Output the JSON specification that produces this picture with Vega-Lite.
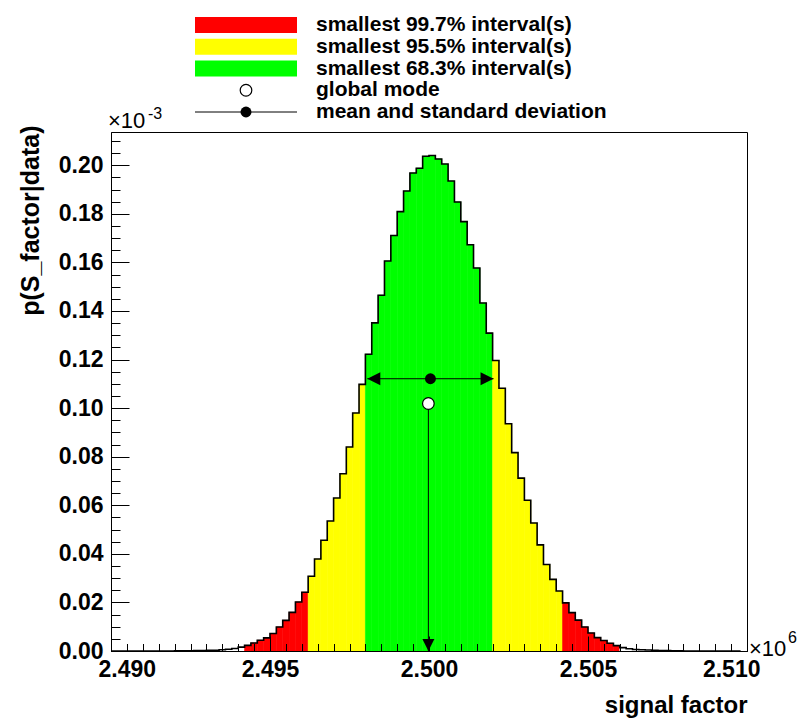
{
  "$schema": "https://vega.github.io/schema/vega-lite/v6.json",
  "width": 636,
  "height": 519,
  "autosize": {"type": "none"},
  "padding": {"left": 111, "top": 132, "right": 53, "bottom": 67},
  "background": "white",
  "config": {
    "view": {"stroke": "black", "strokeWidth": 1},
    "font": "Liberation Sans",
    "axis": {"grid": false}
  },
  "datasets": {
    "hist": [
      {"lo": 2.4900, "hi": 2.4902, "p": 0, "band": "tail"},
      {"lo": 2.4902, "hi": 2.4904, "p": 0, "band": "tail"},
      {"lo": 2.4904, "hi": 2.4906, "p": 0, "band": "tail"},
      {"lo": 2.4906, "hi": 2.4908, "p": 0, "band": "tail"},
      {"lo": 2.4908, "hi": 2.4910, "p": 0, "band": "tail"},
      {"lo": 2.4910, "hi": 2.4912, "p": 0, "band": "tail"},
      {"lo": 2.4912, "hi": 2.4914, "p": 0, "band": "tail"},
      {"lo": 2.4914, "hi": 2.4916, "p": 0, "band": "tail"},
      {"lo": 2.4916, "hi": 2.4918, "p": 0, "band": "tail"},
      {"lo": 2.4918, "hi": 2.4920, "p": 0, "band": "tail"},
      {"lo": 2.4920, "hi": 2.4922, "p": 0.0001, "band": "tail"},
      {"lo": 2.4922, "hi": 2.4924, "p": 0.0001, "band": "tail"},
      {"lo": 2.4924, "hi": 2.4926, "p": 0.0001, "band": "tail"},
      {"lo": 2.4926, "hi": 2.4928, "p": 0.0002, "band": "tail"},
      {"lo": 2.4928, "hi": 2.4930, "p": 0.0002, "band": "tail"},
      {"lo": 2.4930, "hi": 2.4932, "p": 0.0003, "band": "tail"},
      {"lo": 2.4932, "hi": 2.4934, "p": 0.0003, "band": "tail"},
      {"lo": 2.4934, "hi": 2.4936, "p": 0.0005, "band": "tail"},
      {"lo": 2.4936, "hi": 2.4938, "p": 0.0007, "band": "tail"},
      {"lo": 2.4938, "hi": 2.4940, "p": 0.0010, "band": "tail"},
      {"lo": 2.4940, "hi": 2.4942, "p": 0.0016, "band": "tail"},
      {"lo": 2.4942, "hi": 2.4944, "p": 0.0023, "band": "99.7"},
      {"lo": 2.4944, "hi": 2.4946, "p": 0.0033, "band": "99.7"},
      {"lo": 2.4946, "hi": 2.4948, "p": 0.0044, "band": "99.7"},
      {"lo": 2.4948, "hi": 2.4950, "p": 0.0054, "band": "99.7"},
      {"lo": 2.4950, "hi": 2.4952, "p": 0.0072, "band": "99.7"},
      {"lo": 2.4952, "hi": 2.4954, "p": 0.0099, "band": "99.7"},
      {"lo": 2.4954, "hi": 2.4956, "p": 0.0126, "band": "99.7"},
      {"lo": 2.4956, "hi": 2.4958, "p": 0.0159, "band": "99.7"},
      {"lo": 2.4958, "hi": 2.4960, "p": 0.0202, "band": "99.7"},
      {"lo": 2.4960, "hi": 2.4962, "p": 0.0242, "band": "99.7"},
      {"lo": 2.4962, "hi": 2.4964, "p": 0.0308, "band": "95.5"},
      {"lo": 2.4964, "hi": 2.4966, "p": 0.0379, "band": "95.5"},
      {"lo": 2.4966, "hi": 2.4968, "p": 0.0456, "band": "95.5"},
      {"lo": 2.4968, "hi": 2.4970, "p": 0.0535, "band": "95.5"},
      {"lo": 2.4970, "hi": 2.4972, "p": 0.0630, "band": "95.5"},
      {"lo": 2.4972, "hi": 2.4974, "p": 0.0730, "band": "95.5"},
      {"lo": 2.4974, "hi": 2.4976, "p": 0.0840, "band": "95.5"},
      {"lo": 2.4976, "hi": 2.4978, "p": 0.0980, "band": "95.5"},
      {"lo": 2.4978, "hi": 2.4980, "p": 0.1098, "band": "95.5"},
      {"lo": 2.4980, "hi": 2.4982, "p": 0.1222, "band": "68.3"},
      {"lo": 2.4982, "hi": 2.4984, "p": 0.1351, "band": "68.3"},
      {"lo": 2.4984, "hi": 2.4986, "p": 0.1465, "band": "68.3"},
      {"lo": 2.4986, "hi": 2.4988, "p": 0.1606, "band": "68.3"},
      {"lo": 2.4988, "hi": 2.4990, "p": 0.1711, "band": "68.3"},
      {"lo": 2.4990, "hi": 2.4992, "p": 0.1809, "band": "68.3"},
      {"lo": 2.4992, "hi": 2.4994, "p": 0.1894, "band": "68.3"},
      {"lo": 2.4994, "hi": 2.4996, "p": 0.1968, "band": "68.3"},
      {"lo": 2.4996, "hi": 2.4998, "p": 0.1988, "band": "68.3"},
      {"lo": 2.4998, "hi": 2.5000, "p": 0.2037, "band": "68.3"},
      {"lo": 2.5000, "hi": 2.5002, "p": 0.2040, "band": "68.3"},
      {"lo": 2.5002, "hi": 2.5004, "p": 0.2026, "band": "68.3"},
      {"lo": 2.5004, "hi": 2.5006, "p": 0.2005, "band": "68.3"},
      {"lo": 2.5006, "hi": 2.5008, "p": 0.1935, "band": "68.3"},
      {"lo": 2.5008, "hi": 2.5010, "p": 0.1849, "band": "68.3"},
      {"lo": 2.5010, "hi": 2.5012, "p": 0.1768, "band": "68.3"},
      {"lo": 2.5012, "hi": 2.5014, "p": 0.1673, "band": "68.3"},
      {"lo": 2.5014, "hi": 2.5016, "p": 0.1577, "band": "68.3"},
      {"lo": 2.5016, "hi": 2.5018, "p": 0.1433, "band": "68.3"},
      {"lo": 2.5018, "hi": 2.5020, "p": 0.1309, "band": "68.3"},
      {"lo": 2.5020, "hi": 2.5022, "p": 0.1196, "band": "95.5"},
      {"lo": 2.5022, "hi": 2.5024, "p": 0.1082, "band": "95.5"},
      {"lo": 2.5024, "hi": 2.5026, "p": 0.0936, "band": "95.5"},
      {"lo": 2.5026, "hi": 2.5028, "p": 0.0817, "band": "95.5"},
      {"lo": 2.5028, "hi": 2.5030, "p": 0.0712, "band": "95.5"},
      {"lo": 2.5030, "hi": 2.5032, "p": 0.0621, "band": "95.5"},
      {"lo": 2.5032, "hi": 2.5034, "p": 0.0527, "band": "95.5"},
      {"lo": 2.5034, "hi": 2.5036, "p": 0.0437, "band": "95.5"},
      {"lo": 2.5036, "hi": 2.5038, "p": 0.0356, "band": "95.5"},
      {"lo": 2.5038, "hi": 2.5040, "p": 0.0295, "band": "95.5"},
      {"lo": 2.5040, "hi": 2.5042, "p": 0.0247, "band": "95.5"},
      {"lo": 2.5042, "hi": 2.5044, "p": 0.0198, "band": "99.7"},
      {"lo": 2.5044, "hi": 2.5046, "p": 0.0158, "band": "99.7"},
      {"lo": 2.5046, "hi": 2.5048, "p": 0.0127, "band": "99.7"},
      {"lo": 2.5048, "hi": 2.5050, "p": 0.0099, "band": "99.7"},
      {"lo": 2.5050, "hi": 2.5052, "p": 0.0074, "band": "99.7"},
      {"lo": 2.5052, "hi": 2.5054, "p": 0.0055, "band": "99.7"},
      {"lo": 2.5054, "hi": 2.5056, "p": 0.0043, "band": "99.7"},
      {"lo": 2.5056, "hi": 2.5058, "p": 0.0032, "band": "99.7"},
      {"lo": 2.5058, "hi": 2.5060, "p": 0.0022, "band": "99.7"},
      {"lo": 2.5060, "hi": 2.5062, "p": 0.0014, "band": "tail"},
      {"lo": 2.5062, "hi": 2.5064, "p": 0.0009, "band": "tail"},
      {"lo": 2.5064, "hi": 2.5066, "p": 0.0006, "band": "tail"},
      {"lo": 2.5066, "hi": 2.5068, "p": 0.0005, "band": "tail"},
      {"lo": 2.5068, "hi": 2.5070, "p": 0.0004, "band": "tail"},
      {"lo": 2.5070, "hi": 2.5072, "p": 0.0003, "band": "tail"},
      {"lo": 2.5072, "hi": 2.5074, "p": 0.0002, "band": "tail"},
      {"lo": 2.5074, "hi": 2.5076, "p": 0.0002, "band": "tail"},
      {"lo": 2.5076, "hi": 2.5078, "p": 0.0001, "band": "tail"},
      {"lo": 2.5078, "hi": 2.5080, "p": 0.0001, "band": "tail"},
      {"lo": 2.5080, "hi": 2.5082, "p": 0, "band": "tail"},
      {"lo": 2.5082, "hi": 2.5084, "p": 0, "band": "tail"},
      {"lo": 2.5084, "hi": 2.5086, "p": 0, "band": "tail"},
      {"lo": 2.5086, "hi": 2.5088, "p": 0, "band": "tail"},
      {"lo": 2.5088, "hi": 2.5090, "p": 0, "band": "tail"},
      {"lo": 2.5090, "hi": 2.5092, "p": 0, "band": "tail"},
      {"lo": 2.5092, "hi": 2.5094, "p": 0, "band": "tail"},
      {"lo": 2.5094, "hi": 2.5096, "p": 0, "band": "tail"},
      {"lo": 2.5096, "hi": 2.5098, "p": 0, "band": "tail"},
      {"lo": 2.5098, "hi": 2.5100, "p": 0, "band": "tail"}
    ],
    "markers": [
      {"mean": 2.500045, "slo": 2.49806, "shi": 2.50203, "ymean": 0.1121, "mode": 2.49998, "ymode": 0.1019}
    ],
    "legend": [
      {"row": 0, "label": "smallest 99.7% interval(s)", "kind": "box", "band": "99.7"},
      {"row": 1, "label": "smallest 95.5% interval(s)", "kind": "box", "band": "95.5"},
      {"row": 2, "label": "smallest 68.3% interval(s)", "kind": "box", "band": "68.3"},
      {"row": 3, "label": "global mode", "kind": "mode", "band": "none"},
      {"row": 4, "label": "mean and standard deviation", "kind": "mean", "band": "none"}
    ]
  },
  "layer": [
    {
      "data": {"name": "hist"},
      "layer": [
        {
          "mark": {"type": "rect", "strokeWidth": 0.6},
          "encoding": {
            "x": {
              "field": "lo", "type": "quantitative",
              "scale": {"domain": [2.49, 2.51], "nice": false, "zero": false},
              "axis": {
                "orient": "bottom", "zindex": 1,
                "values": [2.49, 2.495, 2.5, 2.505, 2.51], "format": ".3f",
                "tickSize": -15, "tickColor": "black", "tickWidth": 1,
                "domain": true, "domainColor": "black", "domainWidth": 1,
                "labelFont": "Liberation Sans", "labelFontWeight": "bold", "labelFontSize": 23, "labelColor": "black",
                "labelPadding": 22, "labelBaseline": "top", "labelFlush": true, "labelFlushOffset": 13,
                "title": "signal factor", "titleFont": "Liberation Sans", "titleFontWeight": "bold", "titleFontSize": 24,
                "titleColor": "black", "titleAnchor": "end", "titleAlign": "right", "titleX": 636, "titleY": 61,
                "titleBaseline": "alphabetic"
              }
            },
            "x2": {"field": "hi"},
            "y": {
              "field": "p", "type": "quantitative",
              "scale": {"domain": [0, 0.2137], "nice": false, "zero": true},
              "axis": {
                "orient": "left", "zindex": 1,
                "values": [0, 0.02, 0.04, 0.06, 0.08, 0.1, 0.12, 0.14, 0.16, 0.18, 0.2], "format": ".2f",
                "tickSize": -18, "tickColor": "black", "tickWidth": 1,
                "domain": true, "domainColor": "black", "domainWidth": 1,
                "labelFont": "Liberation Sans", "labelFontWeight": "bold", "labelFontSize": 23, "labelColor": "black",
                "labelPadding": 26,
                "title": "p(S_factor|data)", "titleFont": "Liberation Sans", "titleFontWeight": "bold", "titleFontSize": 25,
                "titleColor": "black", "titleAnchor": "end", "titleAlign": "right", "titleAngle": -90,
                "titleX": -73, "titleY": -7, "titleBaseline": "alphabetic"
              }
            },
            "y2": {"datum": 0},
            "color": {
              "field": "band", "type": "nominal",
              "scale": {"domain": ["tail", "99.7", "95.5", "68.3", "none"], "range": ["#ffffff", "#ff0000", "#ffff00", "#00ff00", "#000000"]},
              "legend": null
            },
            "stroke": {
              "field": "band", "type": "nominal",
              "scale": {"domain": ["tail", "99.7", "95.5", "68.3", "none"], "range": ["#ffffff", "#ff0000", "#ffff00", "#00ff00", "#000000"]},
              "legend": null
            }
          }
        },
        {
          "mark": {"type": "line", "interpolate": "step-after", "color": "black", "strokeWidth": 1.6},
          "encoding": {
            "x": {
              "field": "lo", "type": "quantitative",
              "axis": {
                "orient": "bottom", "zindex": 1, "labels": false, "domain": false, "title": null,
                "tickSize": -7.5, "tickColor": "black", "tickWidth": 1,
                "values": [2.49, 2.4905, 2.491, 2.4915, 2.492, 2.4925, 2.493, 2.4935, 2.494, 2.4945, 2.495, 2.4955, 2.496, 2.4965, 2.497, 2.4975, 2.498, 2.4985, 2.499, 2.4995, 2.5, 2.5005, 2.501, 2.5015, 2.502, 2.5025, 2.503, 2.5035, 2.504, 2.5045, 2.505, 2.5055, 2.506, 2.5065, 2.507, 2.5075, 2.508, 2.5085, 2.509, 2.5095, 2.51]
              }
            },
            "y": {
              "field": "p", "type": "quantitative",
              "axis": {
                "orient": "left", "zindex": 1, "labels": false, "domain": false, "title": null,
                "tickSize": -9, "tickColor": "black", "tickWidth": 1,
                "values": [0, 0.005, 0.01, 0.015, 0.02, 0.025, 0.03, 0.035, 0.04, 0.045, 0.05, 0.055, 0.06, 0.065, 0.07, 0.075, 0.08, 0.085, 0.09, 0.095, 0.1, 0.105, 0.11, 0.115, 0.12, 0.125, 0.13, 0.135, 0.14, 0.145, 0.15, 0.155, 0.16, 0.165, 0.17, 0.175, 0.18, 0.185, 0.19, 0.195, 0.2, 0.205, 0.21]
              }
            }
          }
        },
        {
          "data": {"name": "markers"},
          "mark": {"type": "rule", "color": "black", "strokeWidth": 1},
          "encoding": {
            "x": {"field": "slo", "type": "quantitative", "axis": null},
            "x2": {"field": "shi"},
            "y": {"field": "ymean", "type": "quantitative", "axis": null}
          }
        },
        {
          "data": {"name": "markers"},
          "mark": {"type": "point", "shape": "M-2,-1L0,0L-2,1Z", "size": 169, "filled": true, "color": "black", "opacity": 1},
          "encoding": {
            "x": {"field": "shi", "type": "quantitative", "axis": null},
            "y": {"field": "ymean", "type": "quantitative", "axis": null}
          }
        },
        {
          "data": {"name": "markers"},
          "mark": {"type": "point", "shape": "M2,-1L0,0L2,1Z", "size": 169, "filled": true, "color": "black", "opacity": 1},
          "encoding": {
            "x": {"field": "slo", "type": "quantitative", "axis": null},
            "y": {"field": "ymean", "type": "quantitative", "axis": null}
          }
        },
        {
          "data": {"name": "markers"},
          "mark": {"type": "rule", "color": "black", "strokeWidth": 1},
          "encoding": {
            "x": {"field": "mode", "type": "quantitative", "axis": null},
            "y": {"field": "ymode", "type": "quantitative", "axis": null},
            "y2": {"datum": 0}
          }
        },
        {
          "data": {"name": "markers"},
          "mark": {"type": "point", "shape": "M-1,-2L0,0L1,-2Z", "size": 144, "filled": true, "color": "black", "opacity": 1},
          "encoding": {
            "x": {"field": "mode", "type": "quantitative", "axis": null},
            "y": {"datum": 0, "type": "quantitative", "axis": null}
          }
        },
        {
          "data": {"name": "markers"},
          "mark": {"type": "point", "shape": "circle", "size": 120, "filled": true, "color": "black", "opacity": 1},
          "encoding": {
            "x": {"field": "mean", "type": "quantitative", "axis": null},
            "y": {"field": "ymean", "type": "quantitative", "axis": null}
          }
        },
        {
          "data": {"name": "markers"},
          "mark": {"type": "point", "shape": "circle", "size": 135, "filled": false, "fill": "white", "stroke": "black", "strokeWidth": 1.2, "opacity": 1},
          "encoding": {
            "x": {"field": "mode", "type": "quantitative", "axis": null},
            "y": {"field": "ymode", "type": "quantitative", "axis": null}
          }
        },
        {
          "data": {"values": [{"x": 2.49, "y": 0.2137, "t": "×10"}]},
          "mark": {"type": "text", "align": "left", "baseline": "alphabetic", "dx": -3, "dy": -4, "font": "Liberation Sans", "fontSize": 22, "color": "black"},
          "encoding": {
            "x": {"field": "x", "type": "quantitative", "axis": null},
            "y": {"field": "y", "type": "quantitative", "axis": null},
            "text": {"field": "t"}
          }
        },
        {
          "data": {"values": [{"x": 2.49, "y": 0.2137, "t": "-3"}]},
          "mark": {"type": "text", "align": "left", "baseline": "alphabetic", "dx": 37, "dy": -13, "font": "Liberation Sans", "fontSize": 16, "color": "black"},
          "encoding": {
            "x": {"field": "x", "type": "quantitative", "axis": null},
            "y": {"field": "y", "type": "quantitative", "axis": null},
            "text": {"field": "t"}
          }
        },
        {
          "data": {"values": [{"x": 2.51, "y": 0, "t": "×10"}]},
          "mark": {"type": "text", "align": "left", "baseline": "alphabetic", "dx": 2, "dy": 5, "font": "Liberation Sans", "fontSize": 22, "color": "black"},
          "encoding": {
            "x": {"field": "x", "type": "quantitative", "axis": null},
            "y": {"field": "y", "type": "quantitative", "axis": null},
            "text": {"field": "t"}
          }
        },
        {
          "data": {"values": [{"x": 2.51, "y": 0, "t": "6"}]},
          "mark": {"type": "text", "align": "left", "baseline": "alphabetic", "dx": 41, "dy": -8, "font": "Liberation Sans", "fontSize": 16, "color": "black"},
          "encoding": {
            "x": {"field": "x", "type": "quantitative", "axis": null},
            "y": {"field": "y", "type": "quantitative", "axis": null},
            "text": {"field": "t"}
          }
        }
      ],
      "resolve": {"axis": {"x": "independent", "y": "independent"}}
    },
    {
      "data": {"name": "legend"},
      "layer": [
        {
          "transform": [{"filter": "datum.kind == 'box'"}],
          "mark": {"type": "rule", "strokeWidth": 16, "strokeCap": "butt"},
          "encoding": {
            "x": {"value": 84},
            "x2": {"value": 186},
            "y": {"field": "row", "type": "quantitative", "scale": {"domain": [0, 4], "range": [-107, -20], "nice": false, "zero": false}, "axis": null},
            "color": {
              "field": "band", "type": "nominal",
              "scale": {"domain": ["tail", "99.7", "95.5", "68.3", "none"], "range": ["#ffffff", "#ff0000", "#ffff00", "#00ff00", "#000000"]},
              "legend": null
            }
          }
        },
        {
          "transform": [{"filter": "datum.kind == 'mode'"}],
          "mark": {"type": "point", "shape": "circle", "size": 135, "filled": false, "fill": "white", "stroke": "black", "strokeWidth": 1.2, "opacity": 1},
          "encoding": {
            "x": {"value": 135},
            "y": {"field": "row", "type": "quantitative", "axis": null}
          }
        },
        {
          "transform": [{"filter": "datum.kind == 'mean'"}],
          "mark": {"type": "rule", "color": "black", "strokeWidth": 1},
          "encoding": {
            "x": {"value": 84},
            "x2": {"value": 186},
            "y": {"field": "row", "type": "quantitative", "axis": null}
          }
        },
        {
          "transform": [{"filter": "datum.kind == 'mean'"}],
          "mark": {"type": "point", "shape": "circle", "size": 120, "filled": true, "color": "black", "opacity": 1},
          "encoding": {
            "x": {"value": 135},
            "y": {"field": "row", "type": "quantitative", "axis": null}
          }
        },
        {
          "mark": {"type": "text", "align": "left", "baseline": "middle", "font": "Liberation Sans", "fontWeight": "bold", "fontSize": 21, "color": "black"},
          "encoding": {
            "x": {"value": 205},
            "y": {"field": "row", "type": "quantitative", "axis": null},
            "text": {"field": "label"}
          }
        }
      ]
    }
  ],
  "resolve": {"scale": {"y": "independent"}}
}
